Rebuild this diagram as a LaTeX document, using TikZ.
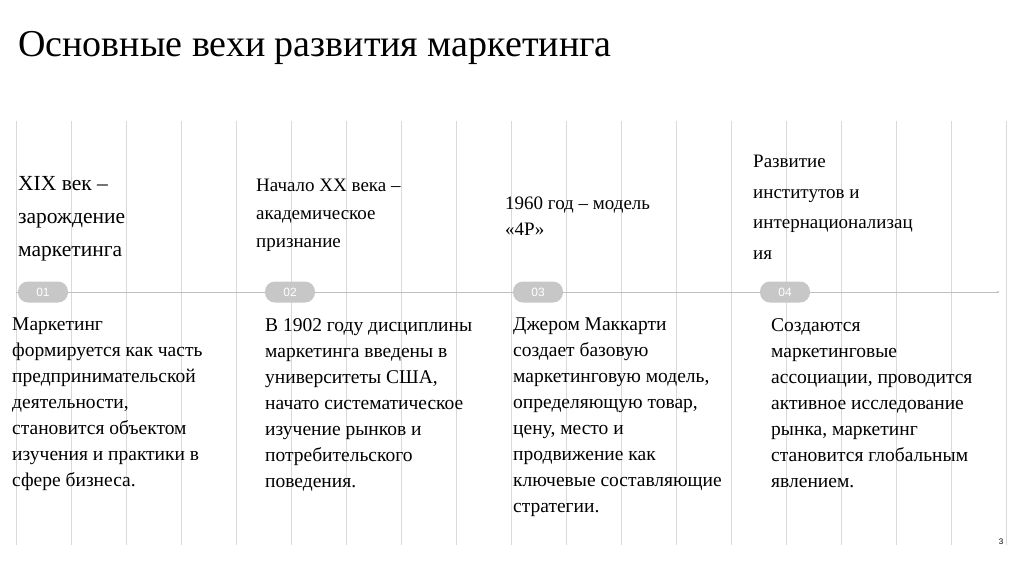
\documentclass[tikz,border=0pt]{standalone}
\usepackage{fontspec}
\setmainfont{Liberation Serif}
\newfontfamily\sansf{Liberation Sans}
\usetikzlibrary{arrows.meta}
\begin{document}
\begin{tikzpicture}[x=1pt,y=-1pt,
  vline/.style={draw=black!15,line width=0.8pt},
  pill/.style={fill=black!22,rounded corners=10pt,minimum width=50pt,minimum height=21pt,text=white,font=\sansf\fontsize{12}{14}\selectfont},
  head/.style={anchor=north west,inner sep=0pt,align=left},
  body/.style={anchor=north west,inner sep=0pt,align=left,font=\fontsize{19.5}{26}\selectfont}]
\useasboundingbox[fill=white] (0,0) rectangle (1024,574);
\foreach \i in {0,...,18}{\draw[vline] ({16+55*\i},121) -- ({16+55*\i},545);}
\node[anchor=base west,inner sep=0pt,font=\fontsize{38}{44}\selectfont] (title) at (18,56) {Основные вехи развития маркетинга};
\coordinate (ls) at (16,292); \coordinate (le) at (1000,292);
\draw[black!25,line width=0.8pt,-{Latex[length=3pt]}] (ls) -- (le);
\node[pill] (p1) at (43,292) {01};
\node[pill] (p2) at (290,292) {02};
\node[pill] (p3) at (538,292) {03};
\node[pill] (p4) at (785,292) {04};
\node[head,font=\fontsize{21.5}{33}\selectfont] (h1) at (18,176) {XIX век –\\зарождение\\маркетинга};
\node[head,font=\fontsize{19}{28}\selectfont] (h2) at (256,179) {Начало XX века –\\академическое\\признание};
\node[head,font=\fontsize{19}{26}\selectfont] (h3) at (505,197) {1960 год –  модель\\«4P»};
\node[head,font=\fontsize{19}{30.5}\selectfont] (h4) at (753,155) {Развитие\\институтов и\\интернационализац\\ия};
\node[body] (b1) at (12,318) {Маркетинг\\формируется как часть\\предпринимательской\\деятельности,\\становится объектом\\изучения и практики в\\сфере бизнеса.};
\node[body] (b2) at (265,318) {В 1902 году дисциплины\\маркетинга введены в\\университеты США,\\начато систематическое\\изучение рынков и\\потребительского\\поведения.};
\node[body] (b3) at (513,318) {Джером Маккарти\\создает базовую\\маркетинговую модель,\\определяющую товар,\\цену, место и\\продвижение как\\ключевые составляющие\\стратегии.};
\node[body] (b4) at (771,318) {Создаются\\маркетинговые\\ассоциации, проводится\\активное исследование\\рынка, маркетинг\\становится глобальным\\явлением.};
\node[font=\sansf\fontsize{8}{10}\selectfont] (pg) at (1001,542) {3};
\end{tikzpicture}
\end{document}
